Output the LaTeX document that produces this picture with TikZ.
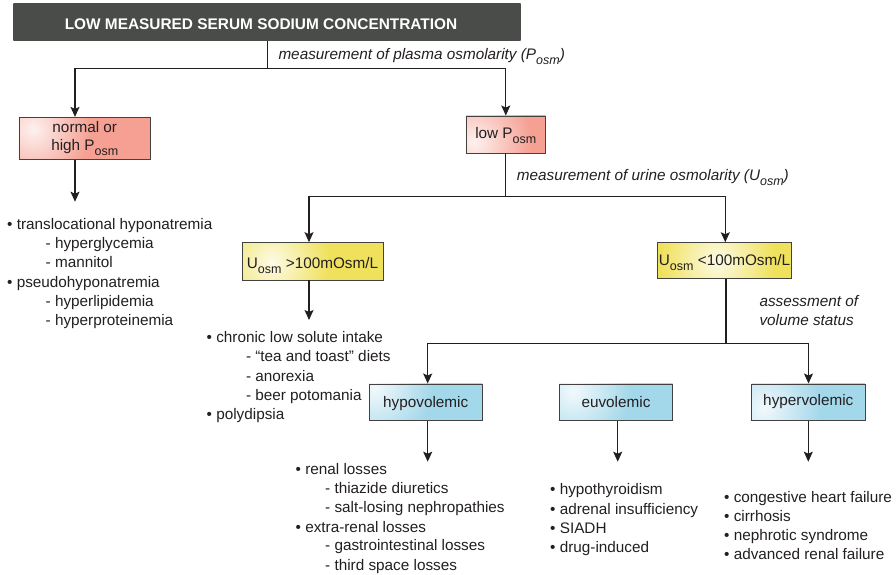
\documentclass[tikz,border=0pt]{standalone}
\usepackage{fontspec}
\setmainfont{Liberation Sans}
\usetikzlibrary{arrows.meta}
\definecolor{ink}{HTML}{231F20}
\definecolor{salmon}{HTML}{F5A093}
\definecolor{yel}{HTML}{EFE15C}
\definecolor{sky}{HTML}{A3D7EA}
\definecolor{hdr}{HTML}{4A4C4A}
\definecolor{hdrmid}{HTML}{433D3C}
\definecolor{hdrdark}{HTML}{2A2828}
\colorlet{hlbase}{salmon}
\colorlet{hlspot}{white}
\pgfdeclareradialshading[hlbase,hlspot]{boxhl}{\pgfpoint{0bp}{0bp}}{color(0bp)=(hlspot); color(9bp)=(hlbase); color(50bp)=(hlbase)}
\pgfdeclarehorizontalshading{hdrsh}{100bp}{color(0bp)=(hdr); color(88bp)=(hdr); color(92bp)=(hdrmid); color(100bp)=(hdrdark)}
\newcommand{\osub}[1]{\raisebox{-5pt}{\fontsize{12.5}{12}\selectfont #1}}
\begin{document}
\begin{tikzpicture}[x=1pt,y=-1pt,
  every node/.style={text=ink, font=\fontsize{15.3}{18.3}\selectfont, inner sep=0pt},
  conn/.style={draw=ink, line width=1.2pt},
  arr/.style={conn, -{Stealth[length=10pt,width=9pt,inset=2pt]}},
  box/.style={draw=ink!85, line width=0.9pt, align=center},
  hl/.style n args={3}{fill=#1, path picture={\colorlet{hlbase}{#1}\colorlet{hlspot}{white!85!#1}\shade[shading=boxhl] ([shift={(#2,#3)}]path picture bounding box.north west) circle (160pt);}},
  item/.style={anchor=base west},
  lbl/.style={anchor=base west, font=\fontsize{15.3}{18.3}\selectfont\itshape}]
\useasboundingbox (0,0) rectangle (896,575);

% header
\node[shading=hdrsh, minimum width=507.4pt, minimum height=37.4pt, text=white,
  font=\fontsize{15.4}{18}\selectfont\bfseries, text height=16.6pt, text depth=2pt]
  (header) at (267,22) {LOW MEASURED SERUM SODIUM CONCENTRATION\hspace*{12pt}};

% boxes
\node[box, hl={salmon}{14}{12}, minimum width=131.7pt, minimum height=41.7pt] (normal) at (84.8,138.2) {normal or\\high P\osub{osm}};
\node[box, hl={salmon}{8}{26}, minimum width=79.7pt, minimum height=37pt, text height=10pt, text depth=2.4pt] (low) at (505.8,134.5) {low P\osub{osm}};
\node[box, hl={yel}{30}{20}, minimum width=141pt, minimum height=37.3pt, text height=16pt, text depth=2pt] (uhigh) at (312.5,261.3) {U\osub{osm} >100mOsm/L};
\node[box, hl={yel}{60}{18}, minimum width=134.4pt, minimum height=36pt, text height=10.6pt, text depth=2pt] (ulow) at (724.5,260.7) {U\osub{osm} <100mOsm/L};
\node[box, hl={sky}{6}{4}, minimum width=113.3pt, minimum height=36.7pt, text height=12pt, text depth=2pt] (hypo) at (425.7,402.3) {hypovolemic};
\node[box, hl={sky}{14}{8}, minimum width=113.4pt, minimum height=36.7pt, text height=12pt, text depth=2pt] (eu) at (616,402.3) {euvolemic};
\node[box, hl={sky}{12}{24}, minimum width=113.3pt, minimum height=36.7pt, text height=7.4pt, text depth=2pt] (hyper) at (808.3,402.3) {hypervolemic};

% labels
\node[lbl] (lab1) at (278.3,59.3) {measurement of plasma osmolarity (P\osub{osm})};
\node[lbl] (lab2) at (516.7,180.7) {measurement of urine osmolarity (U\osub{osm})};
\node[lbl] (lab3) at (759.3,306) {assessment of};
\node[lbl] (lab4) at (759.3,325) {volume status};

% junction coordinates
\coordinate (j1) at (267.3,68.7);
\coordinate (a1) at (75,68.7);
\coordinate (a2) at (505.8,68.7);
\coordinate (j2) at (505.8,196.7);
\coordinate (b1) at (309,196.7);
\coordinate (b2) at (725.3,196.7);
\coordinate (j3) at (726,343.3);
\coordinate (c1) at (427.7,343.3);
\coordinate (c2) at (808.5,343.3);
\coordinate (e1) at (75,201.7);
\coordinate (e2) at (309,320);
\coordinate (e3) at (427.7,461.7);
\coordinate (e4) at (617.7,461.7);
\coordinate (e5) at (808.3,461.7);

% connectors
\draw[conn] (header.south -| j1) -- (j1);
\draw[arr] (j1) -- (a1) -- (normal.north -| a1);
\draw[arr] (j1) -- (a2) -- (low.north -| a2);
\draw[arr] (normal.south -| e1) -- (e1);
\draw[conn] (low.south -| j2) -- (j2);
\draw[arr] (j2) -- (b1) -- (uhigh.north -| b1);
\draw[arr] (j2) -- (b2) -- (ulow.north -| b2);
\draw[arr] (uhigh.south -| e2) -- (e2);
\draw[conn] (ulow.south -| j3) -- (j3);
\draw[arr] (j3) -- (c1) -- (hypo.north -| c1);
\draw[arr] (j3) -- (c2) -- (hyper.north -| c2);
\draw[arr] (hypo.south -| e3) -- (e3);
\draw[arr] (eu.south -| e4) -- (e4);
\draw[arr] (hyper.south -| e5) -- (e5);

% left list
\node[item] (l1) at (7,229.3) {• translocational hyponatremia};
\node[item] (l2) at (45.5,248.7) {- hyperglycemia};
\node[item] (l3) at (45.5,267.7) {- mannitol};
\node[item] (l4) at (7,287) {• pseudohyponatremia};
\node[item] (l5) at (45.5,306.3) {- hyperlipidemia};
\node[item] (l6) at (45.5,325.7) {- hyperproteinemia};

% middle list
\node[item] (m1) at (206.5,342.5) {• chronic low solute intake};
\node[item] (m2) at (245.8,361.7) {- “tea and toast” diets};
\node[item] (m3) at (245.8,381) {- anorexia};
\node[item] (m4) at (245.8,400) {- beer potomania};
\node[item] (m5) at (206.5,419.3) {• polydipsia};

% hypovolemic list
\node[item] (h1) at (295.5,474.3) {• renal losses};
\node[item] (h2) at (325,493.3) {- thiazide diuretics};
\node[item] (h3) at (325,512.7) {- salt-losing nephropathies};
\node[item] (h4) at (295.5,532) {• extra-renal losses};
\node[item] (h5) at (325,550.7) {- gastrointestinal losses};
\node[item] (h6) at (325,570) {- third space losses};

% euvolemic list
\node[item] (u1) at (550,494.3) {• hypothyroidism};
\node[item] (u2) at (550,514.3) {• adrenal insufficiency};
\node[item] (u3) at (550,533.3) {• SIADH};
\node[item] (u4) at (550,552.3) {• drug-induced};

% hypervolemic list
\node[item] (v1) at (724,502) {• congestive heart failure};
\node[item] (v2) at (724,521) {• cirrhosis};
\node[item] (v3) at (724,540) {• nephrotic syndrome};
\node[item] (v4) at (724,559.3) {• advanced renal failure};
\end{tikzpicture}
\end{document}
